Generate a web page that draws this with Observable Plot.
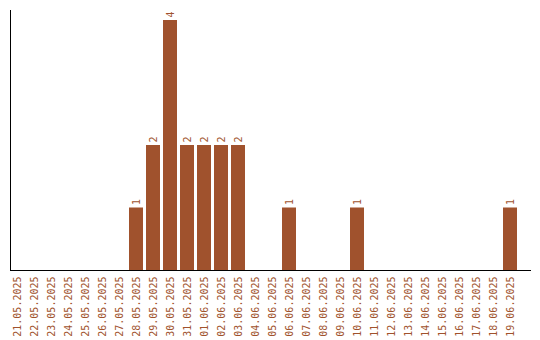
<!DOCTYPE html>
<html>
<head>
<meta charset="utf-8">
<script src="https://cdn.jsdelivr.net/npm/d3@7"></script>
<script src="https://cdn.jsdelivr.net/npm/@observablehq/plot@0.6"></script>
<style>
  html, body { margin: 0; padding: 0; background: #fff; }
  svg [aria-label^="x-axis"] text { fill: #a0522d; }
</style>
</head>
<body>
<div id="chart"></div>
<script>
const dates = [
  "21.05.2025","22.05.2025","23.05.2025","24.05.2025","25.05.2025","26.05.2025","27.05.2025",
  "28.05.2025","29.05.2025","30.05.2025","31.05.2025","01.06.2025","02.06.2025","03.06.2025",
  "04.06.2025","05.06.2025","06.06.2025","07.06.2025","08.06.2025","09.06.2025","10.06.2025",
  "11.06.2025","12.06.2025","13.06.2025","14.06.2025","15.06.2025","16.06.2025","17.06.2025",
  "18.06.2025","19.06.2025"
];
const counts = [0,0,0,0,0,0,0, 1,2,4,2,2,2,2, 0,0,1,0,0,0,1, 0,0,0,0,0,0,0, 0,1];

const data = dates.map((d, i) => ({date: d, count: counts[i]}));
const barColor = "#a0522d";

const chart = Plot.plot({
  width: 540,
  height: 340,
  marginTop: 10,
  marginLeft: 10,
  marginRight: 10,
  marginBottom: 70,
  style: {fontFamily: "'DejaVu Sans Mono', monospace", fontSize: "10px", background: "#fff", color: "black"},
  x: {domain: dates, paddingInner: 0.18, paddingOuter: 0.384, align: 0, tickRotate: -90, tickSize: 0, tickPadding: 6, label: null, line: true},
  y: {domain: [0, 4.16], ticks: [], tickSize: 0, label: null, line: true},
  marks: [
    Plot.barY(data, {x: "date", y: "count", fill: barColor}),
    Plot.text(data.filter(d => d.count > 0), {x: "date", y: "count", text: d => String(d.count), rotate: -90, textAnchor: "start", dy: -3, fill: barColor})
  ]
});
document.getElementById("chart").appendChild(chart);
</script>
</body>
</html>
